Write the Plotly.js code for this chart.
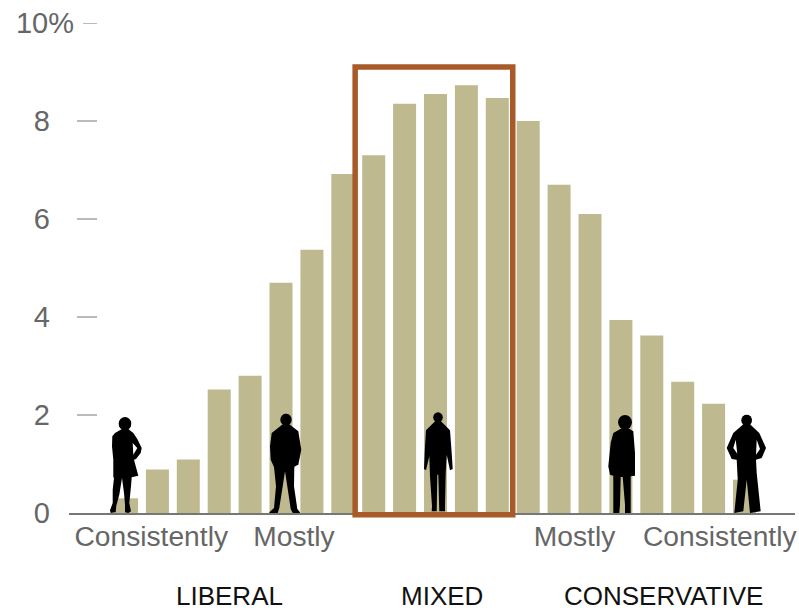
<!DOCTYPE html>
<html><head><meta charset="utf-8">
<script src="https://cdn.plot.ly/plotly-3.0.1.min.js"></script>
<style>html,body{margin:0;padding:0;background:#fff}</style></head>
<body><div id="c" style="width:799px;height:610px"></div>
<script>
const positions=[1,2,3,4,5,6,7,8,9,10,11,12,13,14,15,16,17,18,19,20,21];
const shares=[0.3,0.89,1.09,2.52,2.8,4.7,5.37,6.92,7.3,8.35,8.55,8.73,8.47,8.0,6.7,6.1,3.94,3.62,2.68,2.23,0.68];
const yTicks=[0,2,4,6,8,10];
const yLabels=['0\u00a0\u00a0\u00a0','2\u00a0\u00a0\u00a0','4\u00a0\u00a0\u00a0','6\u00a0\u00a0\u00a0','8\u00a0\u00a0\u00a0','10%'];
const xTicks=[1.8,6.42,15.5,20.2];
const xLabels=['Consistently','Mostly','Mostly','Consistently'];
const groups=['LIBERAL','MIXED','CONSERVATIVE'];
const groupPos=[4.33,11.21,18.39];
const mixedBox={x0:8.4,x1:13.5,y0:-0.035,y1:9.1};

// silhouette outlines: traced at 3x from the picture
const people=[
 {ox:0,cat:1,head:[375,132,20],
  body:[[366,148],[385,148],[400,160],[412,178],[425,205],[422,220],[408,238],[402,240],[415,288],[395,293],[393,320],[388,370],[393,395],[385,400],[375,398],[375,375],[372,340],[366,295],[358,345],[349,378],[347,398],[332,400],[330,392],[338,370],[338,330],[342,295],[340,292],[340,240],[336,200],[337,170],[345,160]],
  holes:[[[398,190],[400,225],[412,205]]]},
 {ox:0,cat:6,head:[858,120,18],
  body:[[848,134],[868,134],[895,155],[904,210],[895,255],[888,258],[883,262],[882,320],[892,388],[900,398],[898,405],[880,404],[872,388],[862,320],[855,275],[848,320],[838,385],[833,400],[810,405],[808,398],[822,385],[828,320],[822,262],[812,240],[810,200],[815,160]],
  holes:[]},
 {ox:400,cat:11,head:[114,113,15],
  body:[[106,124],[122,124],[150,152],[155,220],[158,268],[150,272],[140,225],[137,280],[135,380],[135,395],[118,395],[115,285],[112,285],[110,395],[95,395],[96,380],[90,290],[88,230],[78,272],[72,268],[75,200],[78,152]],
  holes:[]},
 {ox:400,cat:17,head:[675,128,22],
  body:[[665,146],[685,146],[700,155],[705,220],[705,288],[692,290],[692,370],[692,400],[675,400],[675,375],[668,292],[662,292],[660,375],[658,400],[640,400],[640,375],[640,288],[630,285],[625,260],[632,190],[640,160]],
  holes:[]},
 {ox:400,cat:21,head:[1040,122,17],
  body:[[1030,134],[1050,134],[1078,160],[1098,205],[1085,235],[1068,240],[1070,280],[1082,395],[1050,400],[1040,300],[1030,395],[1003,400],[1013,300],[1010,240],[995,238],[980,205],[1000,160]],
  holes:[[[1007,180],[1012,222],[1000,205]],[[1070,180],[1080,208],[1068,225]]]}
];

const L=69,R=795,T=23,B=513;
const cat2px=c=>126.5+30.9*(c-1);
const xRange=[1+(L-126.5)/30.9,1+(R-126.5)/30.9];
function personShapes(p){
  const ax=cat2px(p.cat);
  const px=([x,y])=>[(x/3+p.ox-ax).toFixed(1),((400-y)/3).toFixed(1)];
  const poly=pts=>'M'+pts.map(q=>px(q).join(',')).join('L')+'Z';
  const [hx,hy,r]=p.head;
  const h=[];
  for(let k=0;k<16;k++){const a=k*Math.PI/8;h.push([hx+r*0.95*Math.cos(a),hy+r*Math.sin(a)]);}
  const base={type:'path',xref:'x',yref:'y',xsizemode:'pixel',ysizemode:'pixel',xanchor:p.cat,yanchor:0,
    fillcolor:'#000',line:{width:0},layer:'above'};
  return [{...base,path:poly(p.body)+p.holes.map(poly).join('')},{...base,path:poly(h)}];
}
const shapes=[];
yTicks.filter(v=>v!==0).forEach(v=>shapes.push({type:'line',xref:'paper',yref:'y',
  x0:(v===10?83-L:77-L)/(R-L),x1:(97-L)/(R-L),y0:v,y1:v,line:{color:'#777',width:1}}));
const xp=c=>(cat2px(c)-L)/(R-L);
const yp=v=>v/10;
shapes.push({type:'rect',xref:'paper',yref:'paper',x0:xp(mixedBox.x0),x1:xp(mixedBox.x1),y0:yp(mixedBox.y0),y1:yp(mixedBox.y1),
  line:{color:'#A85B28',width:5.5},fillcolor:'rgba(0,0,0,0)',layer:'above'});
people.forEach(p=>shapes.push(...personShapes(p)));

const data=[{type:'bar',x:positions,y:shares,width:23/30.9,marker:{color:'#BFB98F',line:{width:0}},hoverinfo:'skip'}];
const layout={width:799,height:610,paper_bgcolor:'#fff',plot_bgcolor:'#fff',showlegend:false,
  margin:{l:L,r:799-R,t:T,b:610-B,pad:0},
  xaxis:{range:xRange,showgrid:false,zeroline:false,showline:true,linecolor:'#777',linewidth:1.5,
    tickmode:'array',tickvals:xTicks,ticktext:xLabels,ticks:'',ticklen:0,ticklabelstandoff:-2,
    tickfont:{family:'Liberation Sans',size:28.2,color:'#666'},fixedrange:true},
  yaxis:{range:[0,10],anchor:'free',position:(97-L)/(R-L),showgrid:false,zeroline:false,showline:false,
    tickmode:'array',tickvals:yTicks,ticktext:yLabels,ticks:'',ticklabelstandoff:23,
    tickfont:{family:'Liberation Sans',size:29,color:'#666'},fixedrange:true},
  shapes:shapes,
  annotations:groups.map((g,i)=>({text:g,xref:'x',yref:'paper',x:groupPos[i],y:-0.169,yanchor:'middle',xanchor:'center',
    showarrow:false,font:{family:'Liberation Sans',size:26,color:'#111'}}))
};
Plotly.newPlot('c',data,layout,{displayModeBar:false,staticPlot:true});
</script></body></html>
